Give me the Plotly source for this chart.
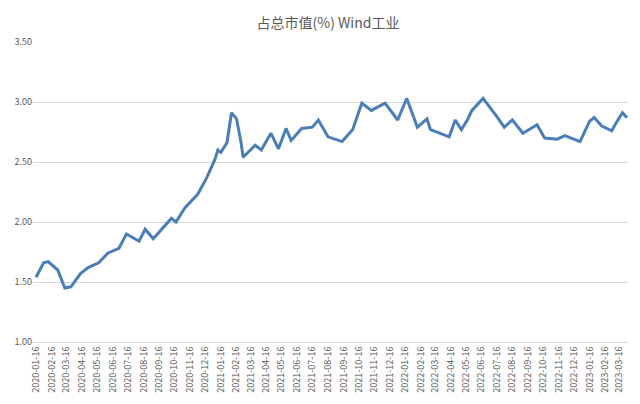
import plotly.graph_objects as go

dates = ["2020-01-16","2020-01-31","2020-02-09","2020-02-28","2020-03-13","2020-03-25","2020-04-13","2020-04-28",
"2020-05-19","2020-06-06","2020-06-28","2020-07-13","2020-08-07","2020-08-19","2020-09-04","2020-09-19",
"2020-10-10","2020-10-19","2020-11-06","2020-12-01","2020-12-19","2021-01-04","2021-01-10","2021-01-16",
"2021-01-28","2021-02-06","2021-02-16","2021-02-25","2021-03-01","2021-03-25","2021-04-06","2021-04-25",
"2021-05-10","2021-05-25","2021-06-04","2021-06-25","2021-07-16","2021-07-28","2021-08-16","2021-09-13",
"2021-10-04","2021-10-22","2021-11-10","2021-12-07","2022-01-01","2022-01-19","2022-02-09","2022-02-28",
"2022-03-07","2022-04-13","2022-04-25","2022-05-07","2022-05-19","2022-05-28","2022-06-19","2022-07-16",
"2022-07-31","2022-08-16","2022-09-06","2022-10-04","2022-10-19","2022-11-13","2022-11-28","2022-12-28",
"2023-01-16","2023-01-25","2023-02-09","2023-03-01","2023-03-10","2023-03-22","2023-03-31"]
values = [1.54,1.66,1.67,1.60,1.45,1.46,1.57,1.62,
1.66,1.74,1.78,1.90,1.84,1.94,1.86,1.93,
2.03,2.00,2.12,2.23,2.37,2.52,2.60,2.58,
2.66,2.91,2.86,2.66,2.54,2.64,2.60,2.74,
2.61,2.78,2.68,2.78,2.79,2.85,2.71,2.67,
2.77,2.99,2.93,2.99,2.85,3.03,2.79,2.86,
2.77,2.71,2.85,2.77,2.85,2.93,3.03,2.88,
2.79,2.85,2.74,2.81,2.70,2.69,2.72,2.67,
2.84,2.87,2.80,2.76,2.83,2.91,2.87]

tickvals = [f"{y}-{m:02d}-16" for y in range(2020, 2024) for m in range(1, 13)][:39]

fig = go.Figure(go.Scatter(x=dates, y=values, mode="lines",
                           line=dict(color="#4a7ebb", width=3)))
fig.update_layout(
    width=640, height=404, paper_bgcolor="white", plot_bgcolor="white",
    margin=dict(l=25, r=20, t=34, b=70, autoexpand=False),
    title=dict(text="占总市值(%) Wind工业", x=0.5, y=0.975, xanchor="center",
               font=dict(size=14, color="#595959", family="Noto Sans CJK SC")),
    showlegend=False,
    font=dict(family="Noto Sans CJK SC", size=9, color="#595959"),
)
fig.update_xaxes(type="date", range=["2020-01-10", "2023-04-02"], tickvals=tickvals,
                 ticktext=tickvals, tickangle=-90, showgrid=False, automargin=False,
                 showline=True, linecolor="#d9d9d9", tickfont=dict(size=9))
fig.update_yaxes(range=[1.0, 3.5], dtick=0.5, tickformat=".2f", gridcolor="#d9d9d9",
                 zeroline=False, automargin=False, tickfont=dict(size=9))
fig.write_html("out.html")
